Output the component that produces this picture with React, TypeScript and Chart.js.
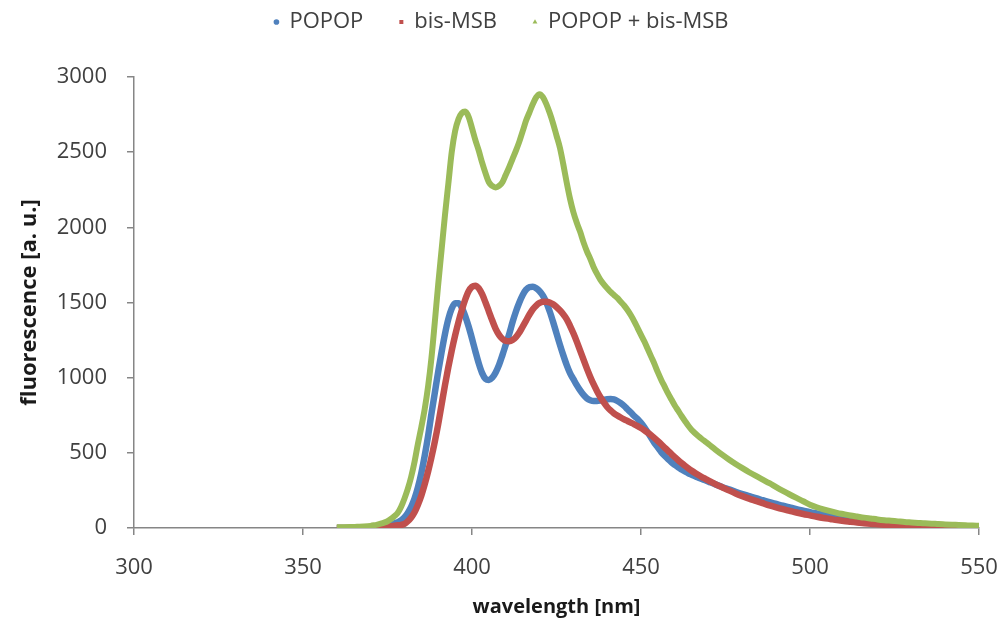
import React, { useEffect, useRef } from 'react';
import { Chart, registerables } from 'chart.js';

Chart.register(...registerables);

const wavelengths = [
  360, 362, 364, 366, 368, 370,
  371, 372, 373, 374, 375, 376, 377, 378, 379, 380,
  381, 382, 383, 384, 385, 386, 387, 388, 389, 390,
  391, 392, 393, 394, 395, 396, 397, 398, 399, 400,
  401, 402, 403, 404, 405, 406, 407, 408, 409, 410,
  411, 412, 413, 414, 415, 416, 417, 418, 419, 420,
  421, 422, 423, 424, 425, 426, 427, 428, 429, 430,
  431, 432, 433, 434, 435, 436, 437, 438, 439, 440,
  441, 442, 443, 444, 445, 446, 447, 448, 449, 450,
  451, 452, 453, 454, 455, 456, 457, 458, 459, 460,
  461, 462, 463, 464, 465, 466, 467, 468, 469, 470,
  472, 474, 476, 478, 480, 482, 484, 486, 488, 490,
  492, 494, 496, 498, 500, 502, 504, 506, 508, 510,
  512, 514, 516, 518, 520, 522, 524, 526, 528, 530,
  532, 534, 536, 538, 540, 542, 544, 546, 548, 550,
];

const popop = [
  0, 0, 1, 2, 3, 5,
  6, 8, 10, 13, 17, 22, 29, 38, 50, 70,
  100, 140, 195, 270, 365, 480, 610, 760, 900, 1040,
  1170, 1290, 1390, 1460, 1495, 1495, 1465, 1410, 1340, 1260,
  1175, 1095, 1030, 992, 985, 1000, 1035, 1085, 1150, 1220,
  1290, 1370, 1440, 1500, 1550, 1585, 1603, 1605, 1595, 1575,
  1545, 1500, 1440, 1370, 1295, 1220, 1150, 1085, 1030, 990,
  950, 915, 885, 862, 850, 845, 845, 848, 853, 857,
  858, 855, 845, 830, 812, 790, 768, 745, 725, 700,
  670, 635, 600, 565, 535, 505, 480, 458, 438, 420,
  403, 389, 376, 364, 354, 344, 335, 326, 317, 308,
  290, 273, 257, 241, 226, 212, 198, 185, 172, 160,
  148, 137, 126, 116, 106, 97, 88, 80, 72, 65,
  58, 52, 47, 42, 37, 33, 29, 26, 23, 20,
  18, 16, 14, 12, 10, 9, 8, 7, 6, 5,
];

const bisMsb = [
  0, 0, 0, 1, 2, 3,
  4, 5, 6, 8, 10, 12, 15, 18, 21, 27,
  45, 70, 105, 155, 215, 290, 375, 470, 575, 690,
  820, 950, 1070, 1180, 1280, 1370, 1450, 1520, 1575, 1605,
  1612, 1595, 1555, 1500, 1440, 1380, 1325, 1285, 1258, 1245,
  1243, 1250, 1270, 1300, 1340, 1380, 1420, 1455, 1480, 1497,
  1505, 1505, 1500, 1488, 1470, 1448, 1422, 1390, 1345, 1295,
  1240, 1180, 1120, 1060, 1005, 955, 910, 870, 835, 805,
  782, 763, 748, 735, 723, 712, 701, 690, 678, 665,
  650, 634, 617, 598, 578, 557, 535, 513, 492, 471,
  451, 432, 414, 397, 381, 366, 352, 339, 327, 315,
  292, 271, 250, 230, 212, 195, 180, 165, 150, 137,
  125, 114, 103, 93, 84, 75, 67, 60, 53, 47,
  42, 37, 32, 28, 25, 22, 19, 17, 15, 13,
  11, 10, 9, 8, 7, 6, 5, 5, 4, 4,
];

const popopBisMsb = [
  5, 5, 6, 8, 10, 14,
  18, 23, 29, 36, 45, 60, 78, 100, 140, 195,
  260, 340, 440, 560, 670, 790, 940, 1130, 1370, 1620,
  1850, 2080, 2290, 2500, 2640, 2720, 2760, 2770, 2735, 2660,
  2580, 2510, 2430, 2360, 2300, 2275, 2265, 2275, 2300, 2350,
  2400, 2455, 2510, 2570, 2640, 2710, 2765, 2820, 2865, 2885,
  2865, 2820, 2760, 2690, 2610, 2530, 2420, 2300, 2190, 2100,
  2030, 1970, 1900, 1840, 1790, 1735, 1690, 1650, 1620, 1595,
  1570, 1550, 1530, 1505, 1480, 1450, 1415, 1375, 1330, 1285,
  1240, 1190, 1140, 1090, 1035, 985, 940, 895, 855, 815,
  780, 745, 712, 680, 652, 630, 610, 592, 575, 558,
  522, 488, 456, 426, 398, 371, 346, 322, 298, 272,
  247, 223, 200, 178, 155, 138, 124, 112, 101, 92,
  83, 76, 69, 63, 57, 52, 48, 44, 40, 37,
  34, 31, 29, 26, 24, 22, 20, 18, 16, 15,
];

const seriesLabels = ['POPOP', 'bis-MSB', 'POPOP + bis-MSB'];
const xTickValues = [300, 350, 400, 450, 500, 550];
const yTickValues = [0, 500, 1000, 1500, 2000, 2500, 3000];

const FONT = "'Open Sans', 'Noto Sans', sans-serif";
const AXIS = '#868686';
const TEXT = '#404040';

const toPoints = (ys: number[]) => wavelengths.map((x, i) => ({ x, y: ys[i] }));

export default function App() {
  const ref = useRef<HTMLCanvasElement | null>(null);

  useEffect(() => {
    document.body.style.margin = '0';
    const canvas = ref.current;
    if (!canvas) return;

    const legendSpacer = {
      id: 'legendSpacer',
      beforeInit(chart: any) {
        const lg = chart.legend;
        if (!lg) return;
        const orig = lg.fit.bind(lg);
        lg.fit = function () {
          orig();
          this.height = 102;
        };
      },
    };

    const common = {
      showLine: true,
      pointRadius: 0,
      pointHoverRadius: 0,
      cubicInterpolationMode: 'monotone' as const,
      fill: false,
    };

    const chart = new Chart(canvas, {
      type: 'scatter',
      data: {
        datasets: [
          {
            ...common,
            label: seriesLabels[0],
            data: toPoints(popop),
            borderColor: '#4F81BD',
            backgroundColor: '#4F81BD',
            borderWidth: 6.5,
            pointStyle: 'circle',
            order: 3,
          },
          {
            ...common,
            label: seriesLabels[1],
            data: toPoints(bisMsb),
            borderColor: '#C0504D',
            backgroundColor: '#C0504D',
            borderWidth: 6.5,
            pointStyle: 'rect',
            order: 2,
          },
          {
            ...common,
            label: seriesLabels[2],
            data: toPoints(popopBisMsb),
            borderColor: '#9BBB59',
            backgroundColor: '#9BBB59',
            borderWidth: 6,
            pointStyle: 'triangle',
            order: 1,
          },
        ],
      },
      options: {
        responsive: false,
        animation: false,
        events: [],
        layout: { padding: { top: -25, left: 0, right: 0, bottom: 0 } },
        plugins: {
          tooltip: { enabled: false },
          legend: {
            display: true,
            position: 'top',
            align: 'center',
            labels: {
              usePointStyle: true,
              boxWidth: 4,
              boxHeight: 4,
              padding: 36,
              color: TEXT,
              font: { family: FONT, size: 22 },
              sort: (a: any, b: any) => a.datasetIndex - b.datasetIndex,
              generateLabels: (c: any) =>
                (Chart.defaults.plugins.legend.labels.generateLabels as any)(c).map((l: any) => ({
                  ...l,
                  lineWidth: 0,
                  strokeStyle: l.fillStyle,
                })),
            },
          },
        },
        scales: {
          x: {
            type: 'linear',
            position: 'bottom',
            min: 300,
            max: 550,
            afterBuildTicks: (s: any) => {
              s.ticks = xTickValues.map((v) => ({ value: v }));
            },
            afterFit: (s: any) => {
              s.height = 93;
              s.paddingLeft = 0;
              s.paddingRight = 0;
            },
            grid: { display: true, drawOnChartArea: false, drawTicks: true, tickLength: 7, color: AXIS, lineWidth: 1.5 },
            border: { display: true, color: AXIS, width: 1.5 },
            ticks: {
              color: TEXT,
              font: { family: FONT, size: 22 },
              padding: 20,
              maxRotation: 0,
              callback: (v: any) => String(v),
            },
            title: {
              display: true,
              text: 'wavelength [nm]',
              color: '#1a1a1a',
              font: { family: FONT, size: 20, weight: 'bold' },
              padding: { top: 0, bottom: 2 },
            },
          },
          y: {
            type: 'linear',
            position: 'left',
            min: 0,
            max: 3000,
            afterBuildTicks: (s: any) => {
              s.ticks = yTickValues.map((v) => ({ value: v }));
            },
            afterFit: (s: any) => {
              s.width = 134;
            },
            grid: { display: true, drawOnChartArea: false, drawTicks: true, tickLength: 7, color: AXIS, lineWidth: 1.5 },
            border: { display: true, color: AXIS, width: 1.5 },
            ticks: {
              color: TEXT,
              font: { family: FONT, size: 22 },
              padding: 20,
              callback: (v: any) => String(v),
            },
            title: {
              display: true,
              text: 'fluorescence [a. u.]',
              color: '#1a1a1a',
              font: { family: FONT, size: 22, weight: 'bold' },
              padding: { top: 17, bottom: 0 },
            },
          },
          yRight: {
            type: 'linear',
            position: 'right',
            display: true,
            grid: { display: false, drawTicks: false },
            border: { display: false },
            ticks: { display: false },
            afterFit: (s: any) => {
              s.width = 24;
              s.paddingTop = 0;
              s.paddingBottom = 0;
            },
          },
        },
      },
      plugins: [legendSpacer],
    } as any);

    return () => {
      chart.destroy();
    };
  }, []);

  return (
    <div style={{ width: 1003, height: 621 }}>
      <canvas ref={ref} width={1003} height={621} />
    </div>
  );
}
